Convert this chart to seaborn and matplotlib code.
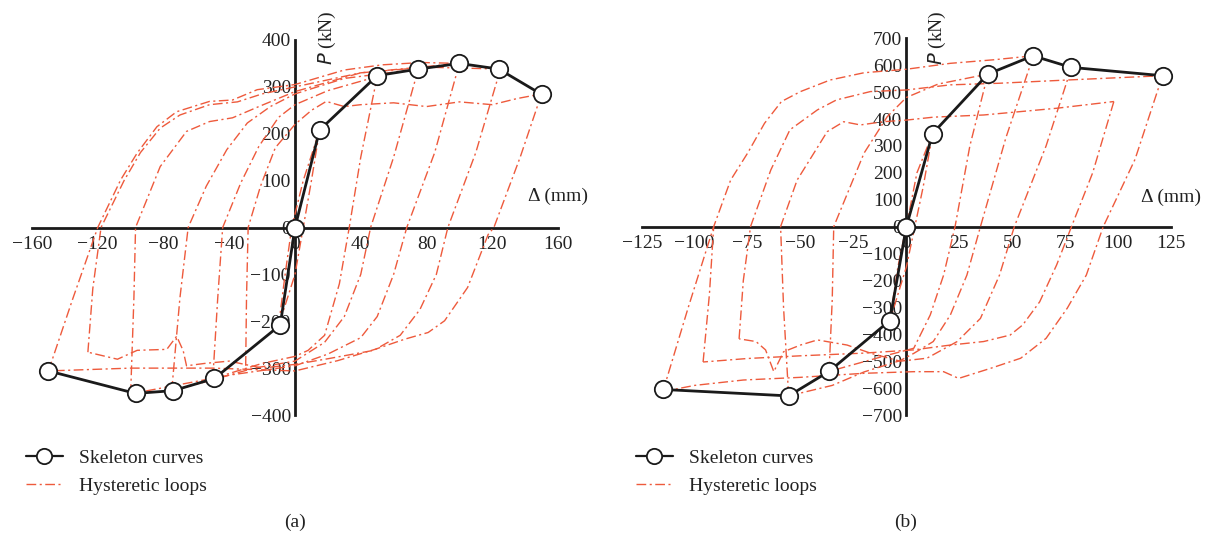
import matplotlib
matplotlib.use("Agg")
import matplotlib.pyplot as plt
import seaborn as sns
import pandas as pd
from matplotlib.lines import Line2D

# ---------------- data: panel (a) ----------------
skel_a_d = [-150, -97, -74, -49, -9, 0, 15, 50, 75, 100, 124, 150]
skel_a_p = [-306, -354, -348, -322, -208, 0, 208, 324, 338, 350, 338, 284]

a_U1 = [(15, 208), (10, 100), (5, 0), (0, -100), (-10, -210)]
a_R1 = [(-10, -210), (-6, -100), (-2, 0), (5, 100), (15, 208)]
a_U2 = [(50, 322), (40, 150), (33, 0), (27, -120), (18, -230), (8, -262), (0, -275), (-20, -290), (-50, -322)]
a_R2 = [(-50, -322), (-47, -150), (-44, 0), (-33, 95), (-22, 173), (-10, 235), (0, 262), (20, 292), (50, 322)]
a_U3 = [(75, 338), (60, 150), (46, 0), (40, -100), (30, -190), (18, -245), (0, -285), (-25, -300), (-50, -325), (-75, -348)]
a_R3 = [(-75, -348), (-70, -150), (-65, 0), (-54, 88), (-41.5, 166), (-29, 223), (-15, 258), (0, 285), (30, 318), (75, 338)]
a_U4 = [(100, 350), (85, 160), (68, 0), (60, -100), (50, -190), (40, -235), (20, -270), (0, -295), (-40, -315), (-70, -335), (-100, -355)]
a_R4 = [(-100, -355), (-98, -150), (-97, 0), (-82, 130), (-66, 205), (-52, 226), (-38, 234), (-22, 258), (0, 290), (40, 330), (100, 350)]
a_U5 = [(125, 338), (110, 160), (93, 0), (86, -100), (76, -175), (64, -230), (48, -262), (20, -280), (0, -292),
        (-20, -300), (-40, -285), (-55, -290), (-66, -295), (-68, -263), (-72, -232), (-78, -260), (-96, -262),
        (-108, -281), (-126, -266)]
a_R5 = [(-126, -266), (-123, -130), (-118, 0), (-104, 100), (-94, 160), (-82, 212), (-70, 240), (-52, 262),
        (-35, 268), (-20, 285), (0, 300), (40, 330), (80, 342), (125, 338)]
a_U6 = [(150, 285), (137, 150), (121, 0), (117.5, -15), (105, -128), (91, -199), (81, -224), (67, -238),
        (48.6, -260), (26, -284), (0, -306), (-50, -300), (-100, -300), (-150, -306)]
a_R6 = [(-150, -306), (-135, -150), (-120, 0), (-106, 102), (-96, 159), (-84, 215), (-72, 247), (-52, 269),
        (-38, 272), (-23, 294), (0, 305), (30, 336), (53, 347), (77, 352), (100, 350)]
a_R7 = [(-30, -295), (-29.5, -150), (-28.5, 0), (-21, 88), (-12, 170), (0, 220), (10, 250), (19, 269), (30, 258),
        (40, 262), (60, 266), (80, 258), (100, 268), (120, 262), (135, 275), (150, 285)]

# ---------------- data: panel (b) ----------------
skel_b_d = [-115, -55.6, -36.5, -7.8, 0, 12.4, 38.5, 59.8, 77.8, 121]
skel_b_p = [-605, -629, -538, -349, 0, 346, 567, 635, 592, 561]

b_U1 = [(12.4, 346), (8, 150), (4, 0), (0, -150), (-7.8, -349)]
b_R1 = [(-7.8, -349), (-4, -150), (0, 0), (5, 200), (12.4, 346)]
b_U2 = [(38.5, 567), (30, 300), (23, 0), (17.6, -180), (11.3, -328), (3.5, -452), (-10, -480), (-36.5, -538)]
b_R2 = [(-36.5, -538), (-35, -270), (-34.3, 0), (-20, 273), (-9, 409), (0, 480), (15, 530), (38.5, 567)]
b_U3 = [(60, 635), (47, 330), (35, 0), (28.6, -180), (20.8, -328), (12.7, -427), (3.5, -471), (-3, -498),
        (-20, -540), (-35, -590), (-55.6, -629)]
b_R3 = [(-55.6, -629), (-58, -300), (-59.4, 0), (-51.6, 173), (-43.7, 273), (-37.4, 353), (-29.6, 390),
        (-21.7, 378), (-11, 390), (0, 396), (12.9, 407), (36.5, 415), (71, 440), (98, 465)]
b_U4 = [(78, 592), (66, 300), (51, 0), (44, -180), (35, -341), (24, -427), (9.7, -489), (-3, -500), (-17, -470),
        (-28, -440), (-42, -421), (-50, -440), (-58, -465), (-62.6, -539), (-66.5, -458), (-71, -427), (-79, -417)]
b_R4 = [(-79, -417), (-77, -200), (-73.6, 0), (-64, 211), (-55, 360), (-42, 434), (-33, 471), (-17, 502), (0, 508),
        (20.8, 527), (44, 533), (76, 545), (121, 561)]
b_U5 = [(98, 465), (88, 200), (78, 0), (71, -142), (63, -279), (55, -365), (49, -403), (36.5, -427), (20.8, -440),
        (3.5, -458), (-20, -470), (-50, -480), (-75, -490), (-96, -503)]
b_R5 = [(-96, -503), (-93, -250), (-91, 0)]
b_U6 = [(121, 561), (108, 250), (93, 0), (85, -180), (76, -303), (66, -415), (54, -489), (40, -526), (24.7, -564),
        (17.6, -539), (3.4, -539), (-20, -545), (-50, -560), (-77, -570), (-100, -590), (-115, -613)]
b_R6 = [(-115, -613), (-103, -300), (-91, 0), (-83, 173), (-75, 273), (-67, 384), (-59, 465), (-50, 502),
        (-36, 545), (-20, 572), (0, 585), (20.8, 607), (41, 620), (60, 635)]

loops_a = [a_U1, a_R1, a_U2, a_R2, a_U3, a_R3, a_U4, a_R4, a_U5, a_R5, a_U6, a_R6, a_R7]
loops_b = [b_U1, b_R1, b_U2, b_R2, b_U3, b_R3, b_U4, b_R4, b_U5, b_R5, b_U6, b_R6]

x_ticks_a = [-160, -120, -80, -40, 0, 40, 80, 120, 160]
y_ticks_a = [-400, -300, -200, -100, 0, 100, 200, 300, 400]
x_ticks_b = [-125, -100, -75, -50, -25, 0, 25, 50, 75, 100, 125]
y_ticks_b = [-700, -600, -500, -400, -300, -200, -100, 0, 100, 200, 300, 400, 500, 600, 700]

RED = "#EE5A3C"
DASH = (0, (7, 2.5, 1.5, 2.5))

sns.set_style("white")
plt.rcParams["font.family"] = ["Liberation Serif", "DejaVu Serif"]
plt.rcParams["axes.unicode_minus"] = True
FS = 14

fig = plt.figure(figsize=(12.15, 5.39), dpi=100)


def loops_frame(loops):
    rows = []
    for i, br in enumerate(loops):
        for j, (d, p) in enumerate(br):
            rows.append({"branch": i, "order": j, "d": d, "p": p})
    return pd.DataFrame(rows)


def draw_panel(ax, loops, sd, sp, xt, yt, xlim, ylim, plab_xy, dlab_xy):
    df = loops_frame(loops)
    sns.lineplot(data=df, x="d", y="p", units="branch", estimator=None, sort=False,
                 color=RED, lw=1.0, ax=ax, legend=False, zorder=2)
    for ln in ax.get_lines():
        ln.set_linestyle(DASH)
        ln.set_clip_on(False)
    sk = pd.DataFrame({"d": sd, "p": sp})
    sns.lineplot(data=sk, x="d", y="p", sort=False, estimator=None, color="#1a1a1a", lw=2.0,
                 marker="o", markersize=12.5, markerfacecolor="white", markeredgecolor="#1a1a1a",
                 markeredgewidth=1.3, ax=ax, legend=False, zorder=5, clip_on=False)
    ax.set_xlim(*xlim)
    ax.set_ylim(*ylim)
    ax.set_xticks(xt)
    ax.set_yticks(yt)
    ax.set_xticklabels([f"{v}".replace("-", "\u2212") for v in xt])
    ax.set_yticklabels([f"{v}".replace("-", "\u2212") for v in yt])
    ax.set_xlabel("")
    ax.set_ylabel("")
    for s in ["top", "right"]:
        ax.spines[s].set_visible(False)
    ax.spines["left"].set_position(("data", 0))
    ax.spines["bottom"].set_position(("data", 0))
    for s in ["left", "bottom"]:
        ax.spines[s].set_linewidth(2.0)
        ax.spines[s].set_color("#1a1a1a")
        ax.spines[s].set_zorder(1)
    ax.tick_params(axis="both", direction="in", length=7, width=2.0, color="#1a1a1a",
                   labelcolor="#222222", labelsize=FS)
    ax.tick_params(axis="x", pad=6)
    ax.tick_params(axis="y", pad=3)
    ax.patch.set_alpha(0)
    ax.text(plab_xy[0], plab_xy[1], "$P$ (kN)", rotation=90, ha="center", va="bottom",
            fontsize=FS, color="#222222")
    ax.text(dlab_xy[0], dlab_xy[1], "\u0394 (mm)", ha="center", va="center",
            fontsize=FS, color="#222222")


ax_a = fig.add_axes([32 / 1215, 1 - 415 / 539, 526 / 1215, 375 / 539])
draw_panel(ax_a, loops_a, skel_a_d, skel_a_p, x_ticks_a, y_ticks_a, (-160, 160), (-400, 400),
           (19.5, 347), (160, 66))

ax_b = fig.add_axes([641.7 / 1215, 1 - 415 / 539, (1171 - 641.7) / 1215, (415 - 38.3) / 539])
draw_panel(ax_b, loops_b, skel_b_d, skel_b_p, x_ticks_b, y_ticks_b, (-125, 125), (-700, 700),
           (14.6, 601), (125, 110))

handles = [
    Line2D([], [], color="#1a1a1a", lw=1.6, marker="o", markersize=11, markerfacecolor="white",
           markeredgecolor="#1a1a1a", markeredgewidth=1.3),
    Line2D([], [], color=RED, lw=1.0, linestyle=DASH),
]
labels = ["Skeleton curves", "Hysteretic loops"]
for ax, x0 in [(ax_a, 26 / 1215), (ax_b, 636 / 1215)]:
    ax.legend(handles, labels, loc="upper left", bbox_to_anchor=(x0, 1 - 449 / 539),
              bbox_transform=fig.transFigure, frameon=False, fontsize=FS, handlelength=1.9,
              handletextpad=0.85, labelspacing=0.55, borderpad=0, borderaxespad=0,
              labelcolor="#222222")

fig.text(295 / 1215, 1 - 522 / 539, "(a)", ha="center", va="center", fontsize=FS, color="#222222")
fig.text(906 / 1215, 1 - 522 / 539, "(b)", ha="center", va="center", fontsize=FS, color="#222222")

fig.savefig("out.png", dpi=100, facecolor="white")
